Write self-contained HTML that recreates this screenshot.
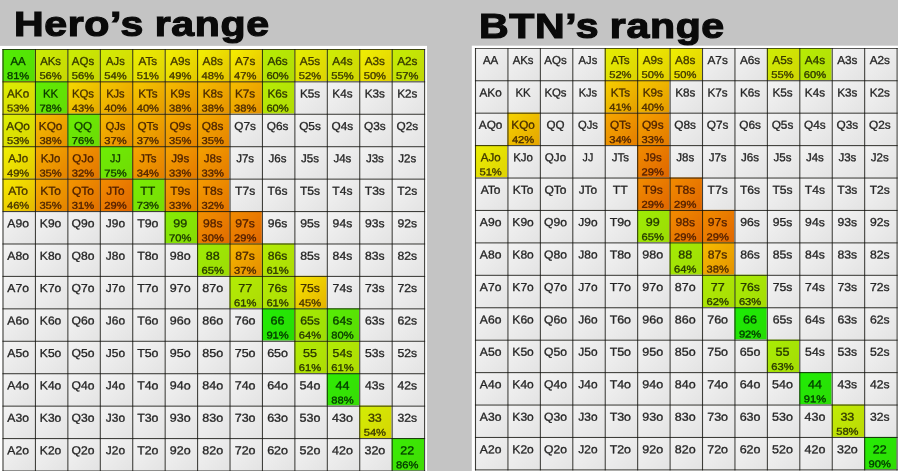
<!DOCTYPE html>
<html><head><meta charset="utf-8"><title>Ranges</title>
<style>
html,body{margin:0;padding:0;}
body{width:898px;height:471px;overflow:hidden;background:#c4c4c4;position:relative;font-family:"Liberation Sans",sans-serif;}
.panel{position:absolute;background:#fff;top:0;left:0;height:430px;}
.title{position:absolute;font-weight:bold;font-size:35.5px;line-height:36px;color:#0a0a0a;white-space:nowrap;transform-origin:0 0;-webkit-text-stroke:1.2px #0a0a0a;letter-spacing:0.55px;word-spacing:-1.2px;will-change:transform;}
.grid{position:absolute;left:0;top:0;width:391px;height:391px;transform-origin:0 0;will-change:transform;}
.c{position:absolute;width:30px;height:30px;background:linear-gradient(135deg,#f2f2f2 10%,#e3e3e3 100%);color:#262626;}
.v,.h{position:absolute;left:0;top:0;background:rgba(18,18,12,.8);}
.v{width:1px;height:391px;}
.h{height:1px;width:391px;}
.c span{position:absolute;left:-5.1px;width:39px;-webkit-text-stroke:0.3px;text-align:center;white-space:nowrap;}
.l{top:5.45px;font-size:10.7px;line-height:13px;}
.p{top:19.45px;transform-origin:50% 77%;font-size:9.2px;line-height:12px;}
</style></head><body>
<div class="panel" style="width:426.6px;transform:translateY(45.9px)"></div>
<div class="panel" style="width:430px;transform:translate(471.8px,45.7px)"></div>
<div class="title" style="left:14.3px;top:6.3px;transform:scaleX(1.156)">Hero’s range</div>
<div class="title" style="left:479.3px;top:8.2px;transform:scaleX(1.156)">BTN’s range</div>
<div class="grid" style="transform:translate(2.46px,48.86px) scale(1.08100,1.08100)">
<div class="c" style="left:0px;top:0px;background:linear-gradient(135deg,#52eb05 12%,#56db05 100%);color:#043800;"><span class="l" style="transform:scaleX(0.992) rotate(.05deg)">AA</span><span class="p" style="transform:scaleX(1.124) rotate(.05deg)">81%</span></div>
<div class="c" style="left:30px;top:0px;background:linear-gradient(135deg,#caeb05 12%,#c8d703 100%);color:#363800;"><span class="l" style="transform:scaleX(0.983) rotate(.05deg)">AKs</span><span class="p" style="transform:scaleX(1.124) rotate(.05deg)">56%</span></div>
<div class="c" style="left:60px;top:0px;background:linear-gradient(135deg,#caeb05 12%,#c8d703 100%);color:#363800;"><span class="l" style="transform:scaleX(0.995) rotate(.05deg)">AQs</span><span class="p" style="transform:scaleX(1.124) rotate(.05deg)">56%</span></div>
<div class="c" style="left:90px;top:0px;background:linear-gradient(135deg,#d3eb05 12%,#d6d503 100%);color:#3c3900;"><span class="l" style="transform:scaleX(0.968) rotate(.05deg)">AJs</span><span class="p" style="transform:scaleX(1.124) rotate(.05deg)">54%</span></div>
<div class="c" style="left:120px;top:0px;background:linear-gradient(135deg,#eaec03 12%,#dfd203 100%);color:#413900;"><span class="l" style="transform:scaleX(1.013) rotate(.05deg)">ATs</span><span class="p" style="transform:scaleX(1.124) rotate(.05deg)">51%</span></div>
<div class="c" style="left:150px;top:0px;background:linear-gradient(135deg,#f0ec03 12%,#e3c900 100%);color:#433800;"><span class="l" style="transform:scaleX(1.019) rotate(.05deg)">A9s</span><span class="p" style="transform:scaleX(1.124) rotate(.05deg)">49%</span></div>
<div class="c" style="left:180px;top:0px;background:linear-gradient(135deg,#f1ec03 12%,#e3c300 100%);color:#443700;"><span class="l" style="transform:scaleX(1.019) rotate(.05deg)">A8s</span><span class="p" style="transform:scaleX(1.124) rotate(.05deg)">48%</span></div>
<div class="c" style="left:210px;top:0px;background:linear-gradient(135deg,#f4ea00 12%,#e4be00 100%);color:#453600;"><span class="l" style="transform:scaleX(1.019) rotate(.05deg)">A7s</span><span class="p" style="transform:scaleX(1.124) rotate(.05deg)">47%</span></div>
<div class="c" style="left:240px;top:0px;background:linear-gradient(135deg,#b6eb05 12%,#b1db05 100%);color:#2e3800;"><span class="l" style="transform:scaleX(1.019) rotate(.05deg)">A6s</span><span class="p" style="transform:scaleX(1.124) rotate(.05deg)">60%</span></div>
<div class="c" style="left:270px;top:0px;background:linear-gradient(135deg,#e4ec03 12%,#ddd303 100%);color:#403900;"><span class="l" style="transform:scaleX(1.019) rotate(.05deg)">A5s</span><span class="p" style="transform:scaleX(1.124) rotate(.05deg)">52%</span></div>
<div class="c" style="left:300px;top:0px;background:linear-gradient(135deg,#ceeb05 12%,#d0d603 100%);color:#393900;"><span class="l" style="transform:scaleX(1.019) rotate(.05deg)">A4s</span><span class="p" style="transform:scaleX(1.124) rotate(.05deg)">55%</span></div>
<div class="c" style="left:330px;top:0px;background:linear-gradient(135deg,#eeec03 12%,#e2cf00 100%);color:#423900;"><span class="l" style="transform:scaleX(1.019) rotate(.05deg)">A3s</span><span class="p" style="transform:scaleX(1.124) rotate(.05deg)">50%</span></div>
<div class="c" style="left:360px;top:0px;background:linear-gradient(135deg,#c5eb05 12%,#c0d705 100%);color:#343800;"><span class="l" style="transform:scaleX(1.019) rotate(.05deg)">A2s</span><span class="p" style="transform:scaleX(1.124) rotate(.05deg)">57%</span></div>
<div class="c" style="left:0px;top:30px;background:linear-gradient(135deg,#dcec03 12%,#dad403 100%);color:#3f3900;"><span class="l" style="transform:scaleX(1.011) rotate(.05deg)">AKo</span><span class="p" style="transform:scaleX(1.124) rotate(.05deg)">53%</span></div>
<div class="c" style="left:30px;top:30px;background:linear-gradient(135deg,#60eb05 12%,#63db05 100%);color:#0a3800;"><span class="l" style="transform:scaleX(0.974) rotate(.05deg)">KK</span><span class="p" style="transform:scaleX(1.124) rotate(.05deg)">78%</span></div>
<div class="c" style="left:60px;top:30px;background:linear-gradient(135deg,#f4d400 12%,#e5a900 100%);color:#483000;"><span class="l" style="transform:scaleX(0.988) rotate(.05deg)">KQs</span><span class="p" style="transform:scaleX(1.124) rotate(.05deg)">43%</span></div>
<div class="c" style="left:90px;top:30px;background:linear-gradient(135deg,#f4c400 12%,#e59a00 100%);color:#4a2c00;"><span class="l" style="transform:scaleX(0.960) rotate(.05deg)">KJs</span><span class="p" style="transform:scaleX(1.124) rotate(.05deg)">40%</span></div>
<div class="c" style="left:120px;top:30px;background:linear-gradient(135deg,#f4c400 12%,#e59a00 100%);color:#4a2c00;"><span class="l" style="transform:scaleX(1.007) rotate(.05deg)">KTs</span><span class="p" style="transform:scaleX(1.124) rotate(.05deg)">40%</span></div>
<div class="c" style="left:150px;top:30px;background:linear-gradient(135deg,#f4b900 12%,#e59100 100%);color:#4c2a00;"><span class="l" style="transform:scaleX(1.012) rotate(.05deg)">K9s</span><span class="p" style="transform:scaleX(1.124) rotate(.05deg)">38%</span></div>
<div class="c" style="left:180px;top:30px;background:linear-gradient(135deg,#f4b900 12%,#e59100 100%);color:#4c2a00;"><span class="l" style="transform:scaleX(1.012) rotate(.05deg)">K8s</span><span class="p" style="transform:scaleX(1.124) rotate(.05deg)">38%</span></div>
<div class="c" style="left:210px;top:30px;background:linear-gradient(135deg,#f4b900 12%,#e59100 100%);color:#4c2a00;"><span class="l" style="transform:scaleX(1.012) rotate(.05deg)">K7s</span><span class="p" style="transform:scaleX(1.124) rotate(.05deg)">38%</span></div>
<div class="c" style="left:240px;top:30px;background:linear-gradient(135deg,#b6eb05 12%,#b1db05 100%);color:#2e3800;"><span class="l" style="transform:scaleX(1.012) rotate(.05deg)">K6s</span><span class="p" style="transform:scaleX(1.124) rotate(.05deg)">60%</span></div>
<div class="c" style="left:270px;top:30px;"><span class="l" style="transform:scaleX(1.012) rotate(.05deg)">K5s</span></div>
<div class="c" style="left:300px;top:30px;"><span class="l" style="transform:scaleX(1.012) rotate(.05deg)">K4s</span></div>
<div class="c" style="left:330px;top:30px;"><span class="l" style="transform:scaleX(1.012) rotate(.05deg)">K3s</span></div>
<div class="c" style="left:360px;top:30px;"><span class="l" style="transform:scaleX(1.012) rotate(.05deg)">K2s</span></div>
<div class="c" style="left:0px;top:60px;background:linear-gradient(135deg,#dcec03 12%,#dad403 100%);color:#3f3900;"><span class="l" style="transform:scaleX(1.020) rotate(.05deg)">AQo</span><span class="p" style="transform:scaleX(1.124) rotate(.05deg)">53%</span></div>
<div class="c" style="left:30px;top:60px;background:linear-gradient(135deg,#f4b900 12%,#e59100 100%);color:#4c2a00;"><span class="l" style="transform:scaleX(1.014) rotate(.05deg)">KQo</span><span class="p" style="transform:scaleX(1.124) rotate(.05deg)">38%</span></div>
<div class="c" style="left:60px;top:60px;background:linear-gradient(135deg,#6aeb05 12%,#6cdb05 100%);color:#0e3800;"><span class="l" style="transform:scaleX(1.004) rotate(.05deg)">QQ</span><span class="p" style="transform:scaleX(1.124) rotate(.05deg)">76%</span></div>
<div class="c" style="left:90px;top:60px;background:linear-gradient(135deg,#f4b400 12%,#e58c00 100%);color:#4c2800;"><span class="l" style="transform:scaleX(0.974) rotate(.05deg)">QJs</span><span class="p" style="transform:scaleX(1.124) rotate(.05deg)">37%</span></div>
<div class="c" style="left:120px;top:60px;background:linear-gradient(135deg,#f4b400 12%,#e58c00 100%);color:#4c2800;"><span class="l" style="transform:scaleX(1.017) rotate(.05deg)">QTs</span><span class="p" style="transform:scaleX(1.124) rotate(.05deg)">37%</span></div>
<div class="c" style="left:150px;top:60px;background:linear-gradient(135deg,#f4a800 12%,#e48300 100%);color:#4e2600;"><span class="l" style="transform:scaleX(1.022) rotate(.05deg)">Q9s</span><span class="p" style="transform:scaleX(1.124) rotate(.05deg)">35%</span></div>
<div class="c" style="left:180px;top:60px;background:linear-gradient(135deg,#f4a800 12%,#e48300 100%);color:#4e2600;"><span class="l" style="transform:scaleX(1.022) rotate(.05deg)">Q8s</span><span class="p" style="transform:scaleX(1.124) rotate(.05deg)">35%</span></div>
<div class="c" style="left:210px;top:60px;"><span class="l" style="transform:scaleX(1.022) rotate(.05deg)">Q7s</span></div>
<div class="c" style="left:240px;top:60px;"><span class="l" style="transform:scaleX(1.022) rotate(.05deg)">Q6s</span></div>
<div class="c" style="left:270px;top:60px;"><span class="l" style="transform:scaleX(1.022) rotate(.05deg)">Q5s</span></div>
<div class="c" style="left:300px;top:60px;"><span class="l" style="transform:scaleX(1.022) rotate(.05deg)">Q4s</span></div>
<div class="c" style="left:330px;top:60px;"><span class="l" style="transform:scaleX(1.022) rotate(.05deg)">Q3s</span></div>
<div class="c" style="left:360px;top:60px;"><span class="l" style="transform:scaleX(1.022) rotate(.05deg)">Q2s</span></div>
<div class="c" style="left:0px;top:90px;background:linear-gradient(135deg,#f0ec03 12%,#e3c900 100%);color:#433800;"><span class="l" style="transform:scaleX(0.998) rotate(.05deg)">AJo</span><span class="p" style="transform:scaleX(1.124) rotate(.05deg)">49%</span></div>
<div class="c" style="left:30px;top:90px;background:linear-gradient(135deg,#f4a800 12%,#e48300 100%);color:#4e2600;"><span class="l" style="transform:scaleX(0.991) rotate(.05deg)">KJo</span><span class="p" style="transform:scaleX(1.124) rotate(.05deg)">35%</span></div>
<div class="c" style="left:60px;top:90px;background:linear-gradient(135deg,#f39800 12%,#e27500 100%);color:#4f2200;"><span class="l" style="transform:scaleX(1.003) rotate(.05deg)">QJo</span><span class="p" style="transform:scaleX(1.124) rotate(.05deg)">32%</span></div>
<div class="c" style="left:90px;top:90px;background:linear-gradient(135deg,#6eeb05 12%,#70db05 100%);color:#103800;"><span class="l" style="transform:scaleX(0.919) rotate(.05deg)">JJ</span><span class="p" style="transform:scaleX(1.124) rotate(.05deg)">75%</span></div>
<div class="c" style="left:120px;top:90px;background:linear-gradient(135deg,#f4a300 12%,#e37e00 100%);color:#4e2400;"><span class="l" style="transform:scaleX(0.993) rotate(.05deg)">JTs</span><span class="p" style="transform:scaleX(1.124) rotate(.05deg)">34%</span></div>
<div class="c" style="left:150px;top:90px;background:linear-gradient(135deg,#f49e00 12%,#e37900 100%);color:#4f2300;"><span class="l" style="transform:scaleX(0.998) rotate(.05deg)">J9s</span><span class="p" style="transform:scaleX(1.124) rotate(.05deg)">33%</span></div>
<div class="c" style="left:180px;top:90px;background:linear-gradient(135deg,#f49e00 12%,#e37900 100%);color:#4f2300;"><span class="l" style="transform:scaleX(0.998) rotate(.05deg)">J8s</span><span class="p" style="transform:scaleX(1.124) rotate(.05deg)">33%</span></div>
<div class="c" style="left:210px;top:90px;"><span class="l" style="transform:scaleX(0.998) rotate(.05deg)">J7s</span></div>
<div class="c" style="left:240px;top:90px;"><span class="l" style="transform:scaleX(0.998) rotate(.05deg)">J6s</span></div>
<div class="c" style="left:270px;top:90px;"><span class="l" style="transform:scaleX(0.998) rotate(.05deg)">J5s</span></div>
<div class="c" style="left:300px;top:90px;"><span class="l" style="transform:scaleX(0.998) rotate(.05deg)">J4s</span></div>
<div class="c" style="left:330px;top:90px;"><span class="l" style="transform:scaleX(0.998) rotate(.05deg)">J3s</span></div>
<div class="c" style="left:360px;top:90px;"><span class="l" style="transform:scaleX(0.998) rotate(.05deg)">J2s</span></div>
<div class="c" style="left:0px;top:120px;background:linear-gradient(135deg,#f4e500 12%,#e5b800 100%);color:#463400;"><span class="l" style="transform:scaleX(1.041) rotate(.05deg)">ATo</span><span class="p" style="transform:scaleX(1.124) rotate(.05deg)">46%</span></div>
<div class="c" style="left:30px;top:120px;background:linear-gradient(135deg,#f4a800 12%,#e48300 100%);color:#4e2600;"><span class="l" style="transform:scaleX(1.034) rotate(.05deg)">KTo</span><span class="p" style="transform:scaleX(1.124) rotate(.05deg)">35%</span></div>
<div class="c" style="left:60px;top:120px;background:linear-gradient(135deg,#f29200 12%,#e17000 100%);color:#4f2100;"><span class="l" style="transform:scaleX(1.043) rotate(.05deg)">QTo</span><span class="p" style="transform:scaleX(1.124) rotate(.05deg)">31%</span></div>
<div class="c" style="left:90px;top:120px;background:linear-gradient(135deg,#f08800 12%,#df6600 100%);color:#501e00;"><span class="l" style="transform:scaleX(1.024) rotate(.05deg)">JTo</span><span class="p" style="transform:scaleX(1.124) rotate(.05deg)">29%</span></div>
<div class="c" style="left:120px;top:120px;background:linear-gradient(135deg,#78eb05 12%,#79db05 100%);color:#143800;"><span class="l" style="transform:scaleX(1.061) rotate(.05deg)">TT</span><span class="p" style="transform:scaleX(1.124) rotate(.05deg)">73%</span></div>
<div class="c" style="left:150px;top:120px;background:linear-gradient(135deg,#f49e00 12%,#e37900 100%);color:#4f2300;"><span class="l" style="transform:scaleX(1.045) rotate(.05deg)">T9s</span><span class="p" style="transform:scaleX(1.124) rotate(.05deg)">33%</span></div>
<div class="c" style="left:180px;top:120px;background:linear-gradient(135deg,#f39800 12%,#e27500 100%);color:#4f2200;"><span class="l" style="transform:scaleX(1.045) rotate(.05deg)">T8s</span><span class="p" style="transform:scaleX(1.124) rotate(.05deg)">32%</span></div>
<div class="c" style="left:210px;top:120px;"><span class="l" style="transform:scaleX(1.045) rotate(.05deg)">T7s</span></div>
<div class="c" style="left:240px;top:120px;"><span class="l" style="transform:scaleX(1.045) rotate(.05deg)">T6s</span></div>
<div class="c" style="left:270px;top:120px;"><span class="l" style="transform:scaleX(1.045) rotate(.05deg)">T5s</span></div>
<div class="c" style="left:300px;top:120px;"><span class="l" style="transform:scaleX(1.045) rotate(.05deg)">T4s</span></div>
<div class="c" style="left:330px;top:120px;"><span class="l" style="transform:scaleX(1.045) rotate(.05deg)">T3s</span></div>
<div class="c" style="left:360px;top:120px;"><span class="l" style="transform:scaleX(1.045) rotate(.05deg)">T2s</span></div>
<div class="c" style="left:0px;top:150px;"><span class="l" style="transform:scaleX(1.047) rotate(.05deg)">A9o</span></div>
<div class="c" style="left:30px;top:150px;"><span class="l" style="transform:scaleX(1.040) rotate(.05deg)">K9o</span></div>
<div class="c" style="left:60px;top:150px;"><span class="l" style="transform:scaleX(1.049) rotate(.05deg)">Q9o</span></div>
<div class="c" style="left:90px;top:150px;"><span class="l" style="transform:scaleX(1.030) rotate(.05deg)">J9o</span></div>
<div class="c" style="left:120px;top:150px;"><span class="l" style="transform:scaleX(1.073) rotate(.05deg)">T9o</span></div>
<div class="c" style="left:150px;top:150px;background:linear-gradient(135deg,#86eb05 12%,#86db05 100%);color:#1a3800;"><span class="l" style="transform:scaleX(1.083) rotate(.05deg)">99</span><span class="p" style="transform:scaleX(1.124) rotate(.05deg)">70%</span></div>
<div class="c" style="left:180px;top:150px;background:linear-gradient(135deg,#f18d00 12%,#e06b00 100%);color:#501f00;"><span class="l" style="transform:scaleX(1.052) rotate(.05deg)">98s</span><span class="p" style="transform:scaleX(1.124) rotate(.05deg)">30%</span></div>
<div class="c" style="left:210px;top:150px;background:linear-gradient(135deg,#f08800 12%,#df6600 100%);color:#501e00;"><span class="l" style="transform:scaleX(1.052) rotate(.05deg)">97s</span><span class="p" style="transform:scaleX(1.124) rotate(.05deg)">29%</span></div>
<div class="c" style="left:240px;top:150px;"><span class="l" style="transform:scaleX(1.052) rotate(.05deg)">96s</span></div>
<div class="c" style="left:270px;top:150px;"><span class="l" style="transform:scaleX(1.052) rotate(.05deg)">95s</span></div>
<div class="c" style="left:300px;top:150px;"><span class="l" style="transform:scaleX(1.052) rotate(.05deg)">94s</span></div>
<div class="c" style="left:330px;top:150px;"><span class="l" style="transform:scaleX(1.052) rotate(.05deg)">93s</span></div>
<div class="c" style="left:360px;top:150px;"><span class="l" style="transform:scaleX(1.052) rotate(.05deg)">92s</span></div>
<div class="c" style="left:0px;top:180px;"><span class="l" style="transform:scaleX(1.047) rotate(.05deg)">A8o</span></div>
<div class="c" style="left:30px;top:180px;"><span class="l" style="transform:scaleX(1.040) rotate(.05deg)">K8o</span></div>
<div class="c" style="left:60px;top:180px;"><span class="l" style="transform:scaleX(1.049) rotate(.05deg)">Q8o</span></div>
<div class="c" style="left:90px;top:180px;"><span class="l" style="transform:scaleX(1.030) rotate(.05deg)">J8o</span></div>
<div class="c" style="left:120px;top:180px;"><span class="l" style="transform:scaleX(1.073) rotate(.05deg)">T8o</span></div>
<div class="c" style="left:150px;top:180px;"><span class="l" style="transform:scaleX(1.081) rotate(.05deg)">98o</span></div>
<div class="c" style="left:180px;top:180px;background:linear-gradient(135deg,#9eeb05 12%,#9cdb05 100%);color:#243800;"><span class="l" style="transform:scaleX(1.083) rotate(.05deg)">88</span><span class="p" style="transform:scaleX(1.124) rotate(.05deg)">65%</span></div>
<div class="c" style="left:210px;top:180px;background:linear-gradient(135deg,#f4b400 12%,#e58c00 100%);color:#4c2800;"><span class="l" style="transform:scaleX(1.052) rotate(.05deg)">87s</span><span class="p" style="transform:scaleX(1.124) rotate(.05deg)">37%</span></div>
<div class="c" style="left:240px;top:180px;background:linear-gradient(135deg,#b2eb05 12%,#addb05 100%);color:#2c3800;"><span class="l" style="transform:scaleX(1.052) rotate(.05deg)">86s</span><span class="p" style="transform:scaleX(1.124) rotate(.05deg)">61%</span></div>
<div class="c" style="left:270px;top:180px;"><span class="l" style="transform:scaleX(1.052) rotate(.05deg)">85s</span></div>
<div class="c" style="left:300px;top:180px;"><span class="l" style="transform:scaleX(1.052) rotate(.05deg)">84s</span></div>
<div class="c" style="left:330px;top:180px;"><span class="l" style="transform:scaleX(1.052) rotate(.05deg)">83s</span></div>
<div class="c" style="left:360px;top:180px;"><span class="l" style="transform:scaleX(1.052) rotate(.05deg)">82s</span></div>
<div class="c" style="left:0px;top:210px;"><span class="l" style="transform:scaleX(1.047) rotate(.05deg)">A7o</span></div>
<div class="c" style="left:30px;top:210px;"><span class="l" style="transform:scaleX(1.040) rotate(.05deg)">K7o</span></div>
<div class="c" style="left:60px;top:210px;"><span class="l" style="transform:scaleX(1.049) rotate(.05deg)">Q7o</span></div>
<div class="c" style="left:90px;top:210px;"><span class="l" style="transform:scaleX(1.030) rotate(.05deg)">J7o</span></div>
<div class="c" style="left:120px;top:210px;"><span class="l" style="transform:scaleX(1.073) rotate(.05deg)">T7o</span></div>
<div class="c" style="left:150px;top:210px;"><span class="l" style="transform:scaleX(1.081) rotate(.05deg)">97o</span></div>
<div class="c" style="left:180px;top:210px;"><span class="l" style="transform:scaleX(1.081) rotate(.05deg)">87o</span></div>
<div class="c" style="left:210px;top:210px;background:linear-gradient(135deg,#b2eb05 12%,#addb05 100%);color:#2c3800;"><span class="l" style="transform:scaleX(1.083) rotate(.05deg)">77</span><span class="p" style="transform:scaleX(1.124) rotate(.05deg)">61%</span></div>
<div class="c" style="left:240px;top:210px;background:linear-gradient(135deg,#b2eb05 12%,#addb05 100%);color:#2c3800;"><span class="l" style="transform:scaleX(1.052) rotate(.05deg)">76s</span><span class="p" style="transform:scaleX(1.124) rotate(.05deg)">61%</span></div>
<div class="c" style="left:270px;top:210px;background:linear-gradient(135deg,#f4e000 12%,#e5b200 100%);color:#463300;"><span class="l" style="transform:scaleX(1.052) rotate(.05deg)">75s</span><span class="p" style="transform:scaleX(1.124) rotate(.05deg)">45%</span></div>
<div class="c" style="left:300px;top:210px;"><span class="l" style="transform:scaleX(1.052) rotate(.05deg)">74s</span></div>
<div class="c" style="left:330px;top:210px;"><span class="l" style="transform:scaleX(1.052) rotate(.05deg)">73s</span></div>
<div class="c" style="left:360px;top:210px;"><span class="l" style="transform:scaleX(1.052) rotate(.05deg)">72s</span></div>
<div class="c" style="left:0px;top:240px;"><span class="l" style="transform:scaleX(1.047) rotate(.05deg)">A6o</span></div>
<div class="c" style="left:30px;top:240px;"><span class="l" style="transform:scaleX(1.040) rotate(.05deg)">K6o</span></div>
<div class="c" style="left:60px;top:240px;"><span class="l" style="transform:scaleX(1.049) rotate(.05deg)">Q6o</span></div>
<div class="c" style="left:90px;top:240px;"><span class="l" style="transform:scaleX(1.030) rotate(.05deg)">J6o</span></div>
<div class="c" style="left:120px;top:240px;"><span class="l" style="transform:scaleX(1.073) rotate(.05deg)">T6o</span></div>
<div class="c" style="left:150px;top:240px;"><span class="l" style="transform:scaleX(1.081) rotate(.05deg)">96o</span></div>
<div class="c" style="left:180px;top:240px;"><span class="l" style="transform:scaleX(1.081) rotate(.05deg)">86o</span></div>
<div class="c" style="left:210px;top:240px;"><span class="l" style="transform:scaleX(1.081) rotate(.05deg)">76o</span></div>
<div class="c" style="left:240px;top:240px;background:linear-gradient(135deg,#22eb05 12%,#2bdb05 100%);color:#003800;"><span class="l" style="transform:scaleX(1.083) rotate(.05deg)">66</span><span class="p" style="transform:scaleX(1.124) rotate(.05deg)">91%</span></div>
<div class="c" style="left:270px;top:240px;background:linear-gradient(135deg,#a3eb05 12%,#a0db05 100%);color:#263800;"><span class="l" style="transform:scaleX(1.052) rotate(.05deg)">65s</span><span class="p" style="transform:scaleX(1.124) rotate(.05deg)">64%</span></div>
<div class="c" style="left:300px;top:240px;background:linear-gradient(135deg,#56eb05 12%,#5bdb05 100%);color:#063800;"><span class="l" style="transform:scaleX(1.052) rotate(.05deg)">64s</span><span class="p" style="transform:scaleX(1.124) rotate(.05deg)">80%</span></div>
<div class="c" style="left:330px;top:240px;"><span class="l" style="transform:scaleX(1.052) rotate(.05deg)">63s</span></div>
<div class="c" style="left:360px;top:240px;"><span class="l" style="transform:scaleX(1.052) rotate(.05deg)">62s</span></div>
<div class="c" style="left:0px;top:270px;"><span class="l" style="transform:scaleX(1.047) rotate(.05deg)">A5o</span></div>
<div class="c" style="left:30px;top:270px;"><span class="l" style="transform:scaleX(1.040) rotate(.05deg)">K5o</span></div>
<div class="c" style="left:60px;top:270px;"><span class="l" style="transform:scaleX(1.049) rotate(.05deg)">Q5o</span></div>
<div class="c" style="left:90px;top:270px;"><span class="l" style="transform:scaleX(1.030) rotate(.05deg)">J5o</span></div>
<div class="c" style="left:120px;top:270px;"><span class="l" style="transform:scaleX(1.073) rotate(.05deg)">T5o</span></div>
<div class="c" style="left:150px;top:270px;"><span class="l" style="transform:scaleX(1.081) rotate(.05deg)">95o</span></div>
<div class="c" style="left:180px;top:270px;"><span class="l" style="transform:scaleX(1.081) rotate(.05deg)">85o</span></div>
<div class="c" style="left:210px;top:270px;"><span class="l" style="transform:scaleX(1.081) rotate(.05deg)">75o</span></div>
<div class="c" style="left:240px;top:270px;"><span class="l" style="transform:scaleX(1.081) rotate(.05deg)">65o</span></div>
<div class="c" style="left:270px;top:270px;background:linear-gradient(135deg,#b2eb05 12%,#addb05 100%);color:#2c3800;"><span class="l" style="transform:scaleX(1.083) rotate(.05deg)">55</span><span class="p" style="transform:scaleX(1.124) rotate(.05deg)">61%</span></div>
<div class="c" style="left:300px;top:270px;background:linear-gradient(135deg,#b2eb05 12%,#addb05 100%);color:#2c3800;"><span class="l" style="transform:scaleX(1.052) rotate(.05deg)">54s</span><span class="p" style="transform:scaleX(1.124) rotate(.05deg)">61%</span></div>
<div class="c" style="left:330px;top:270px;"><span class="l" style="transform:scaleX(1.052) rotate(.05deg)">53s</span></div>
<div class="c" style="left:360px;top:270px;"><span class="l" style="transform:scaleX(1.052) rotate(.05deg)">52s</span></div>
<div class="c" style="left:0px;top:300px;"><span class="l" style="transform:scaleX(1.047) rotate(.05deg)">A4o</span></div>
<div class="c" style="left:30px;top:300px;"><span class="l" style="transform:scaleX(1.040) rotate(.05deg)">K4o</span></div>
<div class="c" style="left:60px;top:300px;"><span class="l" style="transform:scaleX(1.049) rotate(.05deg)">Q4o</span></div>
<div class="c" style="left:90px;top:300px;"><span class="l" style="transform:scaleX(1.030) rotate(.05deg)">J4o</span></div>
<div class="c" style="left:120px;top:300px;"><span class="l" style="transform:scaleX(1.073) rotate(.05deg)">T4o</span></div>
<div class="c" style="left:150px;top:300px;"><span class="l" style="transform:scaleX(1.081) rotate(.05deg)">94o</span></div>
<div class="c" style="left:180px;top:300px;"><span class="l" style="transform:scaleX(1.081) rotate(.05deg)">84o</span></div>
<div class="c" style="left:210px;top:300px;"><span class="l" style="transform:scaleX(1.081) rotate(.05deg)">74o</span></div>
<div class="c" style="left:240px;top:300px;"><span class="l" style="transform:scaleX(1.081) rotate(.05deg)">64o</span></div>
<div class="c" style="left:270px;top:300px;"><span class="l" style="transform:scaleX(1.081) rotate(.05deg)">54o</span></div>
<div class="c" style="left:300px;top:300px;background:linear-gradient(135deg,#30eb05 12%,#38db05 100%);color:#003800;"><span class="l" style="transform:scaleX(1.083) rotate(.05deg)">44</span><span class="p" style="transform:scaleX(1.124) rotate(.05deg)">88%</span></div>
<div class="c" style="left:330px;top:300px;"><span class="l" style="transform:scaleX(1.052) rotate(.05deg)">43s</span></div>
<div class="c" style="left:360px;top:300px;"><span class="l" style="transform:scaleX(1.052) rotate(.05deg)">42s</span></div>
<div class="c" style="left:0px;top:330px;"><span class="l" style="transform:scaleX(1.047) rotate(.05deg)">A3o</span></div>
<div class="c" style="left:30px;top:330px;"><span class="l" style="transform:scaleX(1.040) rotate(.05deg)">K3o</span></div>
<div class="c" style="left:60px;top:330px;"><span class="l" style="transform:scaleX(1.049) rotate(.05deg)">Q3o</span></div>
<div class="c" style="left:90px;top:330px;"><span class="l" style="transform:scaleX(1.030) rotate(.05deg)">J3o</span></div>
<div class="c" style="left:120px;top:330px;"><span class="l" style="transform:scaleX(1.073) rotate(.05deg)">T3o</span></div>
<div class="c" style="left:150px;top:330px;"><span class="l" style="transform:scaleX(1.081) rotate(.05deg)">93o</span></div>
<div class="c" style="left:180px;top:330px;"><span class="l" style="transform:scaleX(1.081) rotate(.05deg)">83o</span></div>
<div class="c" style="left:210px;top:330px;"><span class="l" style="transform:scaleX(1.081) rotate(.05deg)">73o</span></div>
<div class="c" style="left:240px;top:330px;"><span class="l" style="transform:scaleX(1.081) rotate(.05deg)">63o</span></div>
<div class="c" style="left:270px;top:330px;"><span class="l" style="transform:scaleX(1.081) rotate(.05deg)">53o</span></div>
<div class="c" style="left:300px;top:330px;"><span class="l" style="transform:scaleX(1.081) rotate(.05deg)">43o</span></div>
<div class="c" style="left:330px;top:330px;background:linear-gradient(135deg,#d3eb05 12%,#d6d503 100%);color:#3c3900;"><span class="l" style="transform:scaleX(1.083) rotate(.05deg)">33</span><span class="p" style="transform:scaleX(1.124) rotate(.05deg)">54%</span></div>
<div class="c" style="left:360px;top:330px;"><span class="l" style="transform:scaleX(1.052) rotate(.05deg)">32s</span></div>
<div class="c" style="left:0px;top:360px;"><span class="l" style="transform:scaleX(1.047) rotate(.05deg)">A2o</span></div>
<div class="c" style="left:30px;top:360px;"><span class="l" style="transform:scaleX(1.040) rotate(.05deg)">K2o</span></div>
<div class="c" style="left:60px;top:360px;"><span class="l" style="transform:scaleX(1.049) rotate(.05deg)">Q2o</span></div>
<div class="c" style="left:90px;top:360px;"><span class="l" style="transform:scaleX(1.030) rotate(.05deg)">J2o</span></div>
<div class="c" style="left:120px;top:360px;"><span class="l" style="transform:scaleX(1.073) rotate(.05deg)">T2o</span></div>
<div class="c" style="left:150px;top:360px;"><span class="l" style="transform:scaleX(1.081) rotate(.05deg)">92o</span></div>
<div class="c" style="left:180px;top:360px;"><span class="l" style="transform:scaleX(1.081) rotate(.05deg)">82o</span></div>
<div class="c" style="left:210px;top:360px;"><span class="l" style="transform:scaleX(1.081) rotate(.05deg)">72o</span></div>
<div class="c" style="left:240px;top:360px;"><span class="l" style="transform:scaleX(1.081) rotate(.05deg)">62o</span></div>
<div class="c" style="left:270px;top:360px;"><span class="l" style="transform:scaleX(1.081) rotate(.05deg)">52o</span></div>
<div class="c" style="left:300px;top:360px;"><span class="l" style="transform:scaleX(1.081) rotate(.05deg)">42o</span></div>
<div class="c" style="left:330px;top:360px;"><span class="l" style="transform:scaleX(1.081) rotate(.05deg)">32o</span></div>
<div class="c" style="left:360px;top:360px;background:linear-gradient(135deg,#3aeb05 12%,#41db05 100%);color:#003800;"><span class="l" style="transform:scaleX(1.083) rotate(.05deg)">22</span><span class="p" style="transform:scaleX(1.124) rotate(.05deg)">86%</span></div>
<div class="v" style="left:0px"></div><div class="h" style="top:0px"></div>
<div class="v" style="left:30px"></div><div class="h" style="top:30px"></div>
<div class="v" style="left:60px"></div><div class="h" style="top:60px"></div>
<div class="v" style="left:90px"></div><div class="h" style="top:90px"></div>
<div class="v" style="left:120px"></div><div class="h" style="top:120px"></div>
<div class="v" style="left:150px"></div><div class="h" style="top:150px"></div>
<div class="v" style="left:180px"></div><div class="h" style="top:180px"></div>
<div class="v" style="left:210px"></div><div class="h" style="top:210px"></div>
<div class="v" style="left:240px"></div><div class="h" style="top:240px"></div>
<div class="v" style="left:270px"></div><div class="h" style="top:270px"></div>
<div class="v" style="left:300px"></div><div class="h" style="top:300px"></div>
<div class="v" style="left:330px"></div><div class="h" style="top:330px"></div>
<div class="v" style="left:360px"></div><div class="h" style="top:360px"></div>
<div class="v" style="left:390px"></div><div class="h" style="top:390px"></div>
</div>
<div class="grid" style="transform:translate(474.96px,47.76px) scale(1.08100,1.08100)">
<div class="c" style="left:0px;top:0px;"><span class="l" style="transform:scaleX(0.992) rotate(.05deg)">AA</span></div>
<div class="c" style="left:30px;top:0px;"><span class="l" style="transform:scaleX(0.983) rotate(.05deg)">AKs</span></div>
<div class="c" style="left:60px;top:0px;"><span class="l" style="transform:scaleX(0.995) rotate(.05deg)">AQs</span></div>
<div class="c" style="left:90px;top:0px;"><span class="l" style="transform:scaleX(0.968) rotate(.05deg)">AJs</span></div>
<div class="c" style="left:120px;top:0px;background:linear-gradient(135deg,#e4ec03 12%,#ddd303 100%);color:#403900;"><span class="l" style="transform:scaleX(1.013) rotate(.05deg)">ATs</span><span class="p" style="transform:scaleX(1.124) rotate(.05deg)">52%</span></div>
<div class="c" style="left:150px;top:0px;background:linear-gradient(135deg,#eeec03 12%,#e2cf00 100%);color:#423900;"><span class="l" style="transform:scaleX(1.019) rotate(.05deg)">A9s</span><span class="p" style="transform:scaleX(1.124) rotate(.05deg)">50%</span></div>
<div class="c" style="left:180px;top:0px;background:linear-gradient(135deg,#eeec03 12%,#e2cf00 100%);color:#423900;"><span class="l" style="transform:scaleX(1.019) rotate(.05deg)">A8s</span><span class="p" style="transform:scaleX(1.124) rotate(.05deg)">50%</span></div>
<div class="c" style="left:210px;top:0px;"><span class="l" style="transform:scaleX(1.019) rotate(.05deg)">A7s</span></div>
<div class="c" style="left:240px;top:0px;"><span class="l" style="transform:scaleX(1.019) rotate(.05deg)">A6s</span></div>
<div class="c" style="left:270px;top:0px;background:linear-gradient(135deg,#ceeb05 12%,#d0d603 100%);color:#393900;"><span class="l" style="transform:scaleX(1.019) rotate(.05deg)">A5s</span><span class="p" style="transform:scaleX(1.124) rotate(.05deg)">55%</span></div>
<div class="c" style="left:300px;top:0px;background:linear-gradient(135deg,#b6eb05 12%,#b1db05 100%);color:#2e3800;"><span class="l" style="transform:scaleX(1.019) rotate(.05deg)">A4s</span><span class="p" style="transform:scaleX(1.124) rotate(.05deg)">60%</span></div>
<div class="c" style="left:330px;top:0px;"><span class="l" style="transform:scaleX(1.019) rotate(.05deg)">A3s</span></div>
<div class="c" style="left:360px;top:0px;"><span class="l" style="transform:scaleX(1.019) rotate(.05deg)">A2s</span></div>
<div class="c" style="left:0px;top:30px;"><span class="l" style="transform:scaleX(1.011) rotate(.05deg)">AKo</span></div>
<div class="c" style="left:30px;top:30px;"><span class="l" style="transform:scaleX(0.974) rotate(.05deg)">KK</span></div>
<div class="c" style="left:60px;top:30px;"><span class="l" style="transform:scaleX(0.988) rotate(.05deg)">KQs</span></div>
<div class="c" style="left:90px;top:30px;"><span class="l" style="transform:scaleX(0.960) rotate(.05deg)">KJs</span></div>
<div class="c" style="left:120px;top:30px;background:linear-gradient(135deg,#f4ca00 12%,#e59f00 100%);color:#492e00;"><span class="l" style="transform:scaleX(1.007) rotate(.05deg)">KTs</span><span class="p" style="transform:scaleX(1.124) rotate(.05deg)">41%</span></div>
<div class="c" style="left:150px;top:30px;background:linear-gradient(135deg,#f4c400 12%,#e59a00 100%);color:#4a2c00;"><span class="l" style="transform:scaleX(1.012) rotate(.05deg)">K9s</span><span class="p" style="transform:scaleX(1.124) rotate(.05deg)">40%</span></div>
<div class="c" style="left:180px;top:30px;"><span class="l" style="transform:scaleX(1.012) rotate(.05deg)">K8s</span></div>
<div class="c" style="left:210px;top:30px;"><span class="l" style="transform:scaleX(1.012) rotate(.05deg)">K7s</span></div>
<div class="c" style="left:240px;top:30px;"><span class="l" style="transform:scaleX(1.012) rotate(.05deg)">K6s</span></div>
<div class="c" style="left:270px;top:30px;"><span class="l" style="transform:scaleX(1.012) rotate(.05deg)">K5s</span></div>
<div class="c" style="left:300px;top:30px;"><span class="l" style="transform:scaleX(1.012) rotate(.05deg)">K4s</span></div>
<div class="c" style="left:330px;top:30px;"><span class="l" style="transform:scaleX(1.012) rotate(.05deg)">K3s</span></div>
<div class="c" style="left:360px;top:30px;"><span class="l" style="transform:scaleX(1.012) rotate(.05deg)">K2s</span></div>
<div class="c" style="left:0px;top:60px;"><span class="l" style="transform:scaleX(1.020) rotate(.05deg)">AQo</span></div>
<div class="c" style="left:30px;top:60px;background:linear-gradient(135deg,#f4cf00 12%,#e5a400 100%);color:#492f00;"><span class="l" style="transform:scaleX(1.014) rotate(.05deg)">KQo</span><span class="p" style="transform:scaleX(1.124) rotate(.05deg)">42%</span></div>
<div class="c" style="left:60px;top:60px;"><span class="l" style="transform:scaleX(1.004) rotate(.05deg)">QQ</span></div>
<div class="c" style="left:90px;top:60px;"><span class="l" style="transform:scaleX(0.974) rotate(.05deg)">QJs</span></div>
<div class="c" style="left:120px;top:60px;background:linear-gradient(135deg,#f4a300 12%,#e37e00 100%);color:#4e2400;"><span class="l" style="transform:scaleX(1.017) rotate(.05deg)">QTs</span><span class="p" style="transform:scaleX(1.124) rotate(.05deg)">34%</span></div>
<div class="c" style="left:150px;top:60px;background:linear-gradient(135deg,#f49e00 12%,#e37900 100%);color:#4f2300;"><span class="l" style="transform:scaleX(1.022) rotate(.05deg)">Q9s</span><span class="p" style="transform:scaleX(1.124) rotate(.05deg)">33%</span></div>
<div class="c" style="left:180px;top:60px;"><span class="l" style="transform:scaleX(1.022) rotate(.05deg)">Q8s</span></div>
<div class="c" style="left:210px;top:60px;"><span class="l" style="transform:scaleX(1.022) rotate(.05deg)">Q7s</span></div>
<div class="c" style="left:240px;top:60px;"><span class="l" style="transform:scaleX(1.022) rotate(.05deg)">Q6s</span></div>
<div class="c" style="left:270px;top:60px;"><span class="l" style="transform:scaleX(1.022) rotate(.05deg)">Q5s</span></div>
<div class="c" style="left:300px;top:60px;"><span class="l" style="transform:scaleX(1.022) rotate(.05deg)">Q4s</span></div>
<div class="c" style="left:330px;top:60px;"><span class="l" style="transform:scaleX(1.022) rotate(.05deg)">Q3s</span></div>
<div class="c" style="left:360px;top:60px;"><span class="l" style="transform:scaleX(1.022) rotate(.05deg)">Q2s</span></div>
<div class="c" style="left:0px;top:90px;background:linear-gradient(135deg,#eaec03 12%,#dfd203 100%);color:#413900;"><span class="l" style="transform:scaleX(0.998) rotate(.05deg)">AJo</span><span class="p" style="transform:scaleX(1.124) rotate(.05deg)">51%</span></div>
<div class="c" style="left:30px;top:90px;"><span class="l" style="transform:scaleX(0.991) rotate(.05deg)">KJo</span></div>
<div class="c" style="left:60px;top:90px;"><span class="l" style="transform:scaleX(1.003) rotate(.05deg)">QJo</span></div>
<div class="c" style="left:90px;top:90px;"><span class="l" style="transform:scaleX(0.919) rotate(.05deg)">JJ</span></div>
<div class="c" style="left:120px;top:90px;"><span class="l" style="transform:scaleX(0.993) rotate(.05deg)">JTs</span></div>
<div class="c" style="left:150px;top:90px;background:linear-gradient(135deg,#f08800 12%,#df6600 100%);color:#501e00;"><span class="l" style="transform:scaleX(0.998) rotate(.05deg)">J9s</span><span class="p" style="transform:scaleX(1.124) rotate(.05deg)">29%</span></div>
<div class="c" style="left:180px;top:90px;"><span class="l" style="transform:scaleX(0.998) rotate(.05deg)">J8s</span></div>
<div class="c" style="left:210px;top:90px;"><span class="l" style="transform:scaleX(0.998) rotate(.05deg)">J7s</span></div>
<div class="c" style="left:240px;top:90px;"><span class="l" style="transform:scaleX(0.998) rotate(.05deg)">J6s</span></div>
<div class="c" style="left:270px;top:90px;"><span class="l" style="transform:scaleX(0.998) rotate(.05deg)">J5s</span></div>
<div class="c" style="left:300px;top:90px;"><span class="l" style="transform:scaleX(0.998) rotate(.05deg)">J4s</span></div>
<div class="c" style="left:330px;top:90px;"><span class="l" style="transform:scaleX(0.998) rotate(.05deg)">J3s</span></div>
<div class="c" style="left:360px;top:90px;"><span class="l" style="transform:scaleX(0.998) rotate(.05deg)">J2s</span></div>
<div class="c" style="left:0px;top:120px;"><span class="l" style="transform:scaleX(1.041) rotate(.05deg)">ATo</span></div>
<div class="c" style="left:30px;top:120px;"><span class="l" style="transform:scaleX(1.034) rotate(.05deg)">KTo</span></div>
<div class="c" style="left:60px;top:120px;"><span class="l" style="transform:scaleX(1.043) rotate(.05deg)">QTo</span></div>
<div class="c" style="left:90px;top:120px;"><span class="l" style="transform:scaleX(1.024) rotate(.05deg)">JTo</span></div>
<div class="c" style="left:120px;top:120px;"><span class="l" style="transform:scaleX(1.061) rotate(.05deg)">TT</span></div>
<div class="c" style="left:150px;top:120px;background:linear-gradient(135deg,#f08800 12%,#df6600 100%);color:#501e00;"><span class="l" style="transform:scaleX(1.045) rotate(.05deg)">T9s</span><span class="p" style="transform:scaleX(1.124) rotate(.05deg)">29%</span></div>
<div class="c" style="left:180px;top:120px;background:linear-gradient(135deg,#f08800 12%,#df6600 100%);color:#501e00;"><span class="l" style="transform:scaleX(1.045) rotate(.05deg)">T8s</span><span class="p" style="transform:scaleX(1.124) rotate(.05deg)">29%</span></div>
<div class="c" style="left:210px;top:120px;"><span class="l" style="transform:scaleX(1.045) rotate(.05deg)">T7s</span></div>
<div class="c" style="left:240px;top:120px;"><span class="l" style="transform:scaleX(1.045) rotate(.05deg)">T6s</span></div>
<div class="c" style="left:270px;top:120px;"><span class="l" style="transform:scaleX(1.045) rotate(.05deg)">T5s</span></div>
<div class="c" style="left:300px;top:120px;"><span class="l" style="transform:scaleX(1.045) rotate(.05deg)">T4s</span></div>
<div class="c" style="left:330px;top:120px;"><span class="l" style="transform:scaleX(1.045) rotate(.05deg)">T3s</span></div>
<div class="c" style="left:360px;top:120px;"><span class="l" style="transform:scaleX(1.045) rotate(.05deg)">T2s</span></div>
<div class="c" style="left:0px;top:150px;"><span class="l" style="transform:scaleX(1.047) rotate(.05deg)">A9o</span></div>
<div class="c" style="left:30px;top:150px;"><span class="l" style="transform:scaleX(1.040) rotate(.05deg)">K9o</span></div>
<div class="c" style="left:60px;top:150px;"><span class="l" style="transform:scaleX(1.049) rotate(.05deg)">Q9o</span></div>
<div class="c" style="left:90px;top:150px;"><span class="l" style="transform:scaleX(1.030) rotate(.05deg)">J9o</span></div>
<div class="c" style="left:120px;top:150px;"><span class="l" style="transform:scaleX(1.073) rotate(.05deg)">T9o</span></div>
<div class="c" style="left:150px;top:150px;background:linear-gradient(135deg,#9eeb05 12%,#9cdb05 100%);color:#243800;"><span class="l" style="transform:scaleX(1.083) rotate(.05deg)">99</span><span class="p" style="transform:scaleX(1.124) rotate(.05deg)">65%</span></div>
<div class="c" style="left:180px;top:150px;background:linear-gradient(135deg,#f08800 12%,#df6600 100%);color:#501e00;"><span class="l" style="transform:scaleX(1.052) rotate(.05deg)">98s</span><span class="p" style="transform:scaleX(1.124) rotate(.05deg)">29%</span></div>
<div class="c" style="left:210px;top:150px;background:linear-gradient(135deg,#f08800 12%,#df6600 100%);color:#501e00;"><span class="l" style="transform:scaleX(1.052) rotate(.05deg)">97s</span><span class="p" style="transform:scaleX(1.124) rotate(.05deg)">29%</span></div>
<div class="c" style="left:240px;top:150px;"><span class="l" style="transform:scaleX(1.052) rotate(.05deg)">96s</span></div>
<div class="c" style="left:270px;top:150px;"><span class="l" style="transform:scaleX(1.052) rotate(.05deg)">95s</span></div>
<div class="c" style="left:300px;top:150px;"><span class="l" style="transform:scaleX(1.052) rotate(.05deg)">94s</span></div>
<div class="c" style="left:330px;top:150px;"><span class="l" style="transform:scaleX(1.052) rotate(.05deg)">93s</span></div>
<div class="c" style="left:360px;top:150px;"><span class="l" style="transform:scaleX(1.052) rotate(.05deg)">92s</span></div>
<div class="c" style="left:0px;top:180px;"><span class="l" style="transform:scaleX(1.047) rotate(.05deg)">A8o</span></div>
<div class="c" style="left:30px;top:180px;"><span class="l" style="transform:scaleX(1.040) rotate(.05deg)">K8o</span></div>
<div class="c" style="left:60px;top:180px;"><span class="l" style="transform:scaleX(1.049) rotate(.05deg)">Q8o</span></div>
<div class="c" style="left:90px;top:180px;"><span class="l" style="transform:scaleX(1.030) rotate(.05deg)">J8o</span></div>
<div class="c" style="left:120px;top:180px;"><span class="l" style="transform:scaleX(1.073) rotate(.05deg)">T8o</span></div>
<div class="c" style="left:150px;top:180px;"><span class="l" style="transform:scaleX(1.081) rotate(.05deg)">98o</span></div>
<div class="c" style="left:180px;top:180px;background:linear-gradient(135deg,#a3eb05 12%,#a0db05 100%);color:#263800;"><span class="l" style="transform:scaleX(1.083) rotate(.05deg)">88</span><span class="p" style="transform:scaleX(1.124) rotate(.05deg)">64%</span></div>
<div class="c" style="left:210px;top:180px;background:linear-gradient(135deg,#f4b900 12%,#e59100 100%);color:#4c2a00;"><span class="l" style="transform:scaleX(1.052) rotate(.05deg)">87s</span><span class="p" style="transform:scaleX(1.124) rotate(.05deg)">38%</span></div>
<div class="c" style="left:240px;top:180px;"><span class="l" style="transform:scaleX(1.052) rotate(.05deg)">86s</span></div>
<div class="c" style="left:270px;top:180px;"><span class="l" style="transform:scaleX(1.052) rotate(.05deg)">85s</span></div>
<div class="c" style="left:300px;top:180px;"><span class="l" style="transform:scaleX(1.052) rotate(.05deg)">84s</span></div>
<div class="c" style="left:330px;top:180px;"><span class="l" style="transform:scaleX(1.052) rotate(.05deg)">83s</span></div>
<div class="c" style="left:360px;top:180px;"><span class="l" style="transform:scaleX(1.052) rotate(.05deg)">82s</span></div>
<div class="c" style="left:0px;top:210px;"><span class="l" style="transform:scaleX(1.047) rotate(.05deg)">A7o</span></div>
<div class="c" style="left:30px;top:210px;"><span class="l" style="transform:scaleX(1.040) rotate(.05deg)">K7o</span></div>
<div class="c" style="left:60px;top:210px;"><span class="l" style="transform:scaleX(1.049) rotate(.05deg)">Q7o</span></div>
<div class="c" style="left:90px;top:210px;"><span class="l" style="transform:scaleX(1.030) rotate(.05deg)">J7o</span></div>
<div class="c" style="left:120px;top:210px;"><span class="l" style="transform:scaleX(1.073) rotate(.05deg)">T7o</span></div>
<div class="c" style="left:150px;top:210px;"><span class="l" style="transform:scaleX(1.081) rotate(.05deg)">97o</span></div>
<div class="c" style="left:180px;top:210px;"><span class="l" style="transform:scaleX(1.081) rotate(.05deg)">87o</span></div>
<div class="c" style="left:210px;top:210px;background:linear-gradient(135deg,#adeb05 12%,#a8db05 100%);color:#2a3800;"><span class="l" style="transform:scaleX(1.083) rotate(.05deg)">77</span><span class="p" style="transform:scaleX(1.124) rotate(.05deg)">62%</span></div>
<div class="c" style="left:240px;top:210px;background:linear-gradient(135deg,#a8eb05 12%,#a4db05 100%);color:#283800;"><span class="l" style="transform:scaleX(1.052) rotate(.05deg)">76s</span><span class="p" style="transform:scaleX(1.124) rotate(.05deg)">63%</span></div>
<div class="c" style="left:270px;top:210px;"><span class="l" style="transform:scaleX(1.052) rotate(.05deg)">75s</span></div>
<div class="c" style="left:300px;top:210px;"><span class="l" style="transform:scaleX(1.052) rotate(.05deg)">74s</span></div>
<div class="c" style="left:330px;top:210px;"><span class="l" style="transform:scaleX(1.052) rotate(.05deg)">73s</span></div>
<div class="c" style="left:360px;top:210px;"><span class="l" style="transform:scaleX(1.052) rotate(.05deg)">72s</span></div>
<div class="c" style="left:0px;top:240px;"><span class="l" style="transform:scaleX(1.047) rotate(.05deg)">A6o</span></div>
<div class="c" style="left:30px;top:240px;"><span class="l" style="transform:scaleX(1.040) rotate(.05deg)">K6o</span></div>
<div class="c" style="left:60px;top:240px;"><span class="l" style="transform:scaleX(1.049) rotate(.05deg)">Q6o</span></div>
<div class="c" style="left:90px;top:240px;"><span class="l" style="transform:scaleX(1.030) rotate(.05deg)">J6o</span></div>
<div class="c" style="left:120px;top:240px;"><span class="l" style="transform:scaleX(1.073) rotate(.05deg)">T6o</span></div>
<div class="c" style="left:150px;top:240px;"><span class="l" style="transform:scaleX(1.081) rotate(.05deg)">96o</span></div>
<div class="c" style="left:180px;top:240px;"><span class="l" style="transform:scaleX(1.081) rotate(.05deg)">86o</span></div>
<div class="c" style="left:210px;top:240px;"><span class="l" style="transform:scaleX(1.081) rotate(.05deg)">76o</span></div>
<div class="c" style="left:240px;top:240px;background:linear-gradient(135deg,#1deb05 12%,#27db05 100%);color:#003800;"><span class="l" style="transform:scaleX(1.083) rotate(.05deg)">66</span><span class="p" style="transform:scaleX(1.124) rotate(.05deg)">92%</span></div>
<div class="c" style="left:270px;top:240px;"><span class="l" style="transform:scaleX(1.052) rotate(.05deg)">65s</span></div>
<div class="c" style="left:300px;top:240px;"><span class="l" style="transform:scaleX(1.052) rotate(.05deg)">64s</span></div>
<div class="c" style="left:330px;top:240px;"><span class="l" style="transform:scaleX(1.052) rotate(.05deg)">63s</span></div>
<div class="c" style="left:360px;top:240px;"><span class="l" style="transform:scaleX(1.052) rotate(.05deg)">62s</span></div>
<div class="c" style="left:0px;top:270px;"><span class="l" style="transform:scaleX(1.047) rotate(.05deg)">A5o</span></div>
<div class="c" style="left:30px;top:270px;"><span class="l" style="transform:scaleX(1.040) rotate(.05deg)">K5o</span></div>
<div class="c" style="left:60px;top:270px;"><span class="l" style="transform:scaleX(1.049) rotate(.05deg)">Q5o</span></div>
<div class="c" style="left:90px;top:270px;"><span class="l" style="transform:scaleX(1.030) rotate(.05deg)">J5o</span></div>
<div class="c" style="left:120px;top:270px;"><span class="l" style="transform:scaleX(1.073) rotate(.05deg)">T5o</span></div>
<div class="c" style="left:150px;top:270px;"><span class="l" style="transform:scaleX(1.081) rotate(.05deg)">95o</span></div>
<div class="c" style="left:180px;top:270px;"><span class="l" style="transform:scaleX(1.081) rotate(.05deg)">85o</span></div>
<div class="c" style="left:210px;top:270px;"><span class="l" style="transform:scaleX(1.081) rotate(.05deg)">75o</span></div>
<div class="c" style="left:240px;top:270px;"><span class="l" style="transform:scaleX(1.081) rotate(.05deg)">65o</span></div>
<div class="c" style="left:270px;top:270px;background:linear-gradient(135deg,#a8eb05 12%,#a4db05 100%);color:#283800;"><span class="l" style="transform:scaleX(1.083) rotate(.05deg)">55</span><span class="p" style="transform:scaleX(1.124) rotate(.05deg)">63%</span></div>
<div class="c" style="left:300px;top:270px;"><span class="l" style="transform:scaleX(1.052) rotate(.05deg)">54s</span></div>
<div class="c" style="left:330px;top:270px;"><span class="l" style="transform:scaleX(1.052) rotate(.05deg)">53s</span></div>
<div class="c" style="left:360px;top:270px;"><span class="l" style="transform:scaleX(1.052) rotate(.05deg)">52s</span></div>
<div class="c" style="left:0px;top:300px;"><span class="l" style="transform:scaleX(1.047) rotate(.05deg)">A4o</span></div>
<div class="c" style="left:30px;top:300px;"><span class="l" style="transform:scaleX(1.040) rotate(.05deg)">K4o</span></div>
<div class="c" style="left:60px;top:300px;"><span class="l" style="transform:scaleX(1.049) rotate(.05deg)">Q4o</span></div>
<div class="c" style="left:90px;top:300px;"><span class="l" style="transform:scaleX(1.030) rotate(.05deg)">J4o</span></div>
<div class="c" style="left:120px;top:300px;"><span class="l" style="transform:scaleX(1.073) rotate(.05deg)">T4o</span></div>
<div class="c" style="left:150px;top:300px;"><span class="l" style="transform:scaleX(1.081) rotate(.05deg)">94o</span></div>
<div class="c" style="left:180px;top:300px;"><span class="l" style="transform:scaleX(1.081) rotate(.05deg)">84o</span></div>
<div class="c" style="left:210px;top:300px;"><span class="l" style="transform:scaleX(1.081) rotate(.05deg)">74o</span></div>
<div class="c" style="left:240px;top:300px;"><span class="l" style="transform:scaleX(1.081) rotate(.05deg)">64o</span></div>
<div class="c" style="left:270px;top:300px;"><span class="l" style="transform:scaleX(1.081) rotate(.05deg)">54o</span></div>
<div class="c" style="left:300px;top:300px;background:linear-gradient(135deg,#22eb05 12%,#2bdb05 100%);color:#003800;"><span class="l" style="transform:scaleX(1.083) rotate(.05deg)">44</span><span class="p" style="transform:scaleX(1.124) rotate(.05deg)">91%</span></div>
<div class="c" style="left:330px;top:300px;"><span class="l" style="transform:scaleX(1.052) rotate(.05deg)">43s</span></div>
<div class="c" style="left:360px;top:300px;"><span class="l" style="transform:scaleX(1.052) rotate(.05deg)">42s</span></div>
<div class="c" style="left:0px;top:330px;"><span class="l" style="transform:scaleX(1.047) rotate(.05deg)">A3o</span></div>
<div class="c" style="left:30px;top:330px;"><span class="l" style="transform:scaleX(1.040) rotate(.05deg)">K3o</span></div>
<div class="c" style="left:60px;top:330px;"><span class="l" style="transform:scaleX(1.049) rotate(.05deg)">Q3o</span></div>
<div class="c" style="left:90px;top:330px;"><span class="l" style="transform:scaleX(1.030) rotate(.05deg)">J3o</span></div>
<div class="c" style="left:120px;top:330px;"><span class="l" style="transform:scaleX(1.073) rotate(.05deg)">T3o</span></div>
<div class="c" style="left:150px;top:330px;"><span class="l" style="transform:scaleX(1.081) rotate(.05deg)">93o</span></div>
<div class="c" style="left:180px;top:330px;"><span class="l" style="transform:scaleX(1.081) rotate(.05deg)">83o</span></div>
<div class="c" style="left:210px;top:330px;"><span class="l" style="transform:scaleX(1.081) rotate(.05deg)">73o</span></div>
<div class="c" style="left:240px;top:330px;"><span class="l" style="transform:scaleX(1.081) rotate(.05deg)">63o</span></div>
<div class="c" style="left:270px;top:330px;"><span class="l" style="transform:scaleX(1.081) rotate(.05deg)">53o</span></div>
<div class="c" style="left:300px;top:330px;"><span class="l" style="transform:scaleX(1.081) rotate(.05deg)">43o</span></div>
<div class="c" style="left:330px;top:330px;background:linear-gradient(135deg,#c0eb05 12%,#bbd805 100%);color:#323800;"><span class="l" style="transform:scaleX(1.083) rotate(.05deg)">33</span><span class="p" style="transform:scaleX(1.124) rotate(.05deg)">58%</span></div>
<div class="c" style="left:360px;top:330px;"><span class="l" style="transform:scaleX(1.052) rotate(.05deg)">32s</span></div>
<div class="c" style="left:0px;top:360px;"><span class="l" style="transform:scaleX(1.047) rotate(.05deg)">A2o</span></div>
<div class="c" style="left:30px;top:360px;"><span class="l" style="transform:scaleX(1.040) rotate(.05deg)">K2o</span></div>
<div class="c" style="left:60px;top:360px;"><span class="l" style="transform:scaleX(1.049) rotate(.05deg)">Q2o</span></div>
<div class="c" style="left:90px;top:360px;"><span class="l" style="transform:scaleX(1.030) rotate(.05deg)">J2o</span></div>
<div class="c" style="left:120px;top:360px;"><span class="l" style="transform:scaleX(1.073) rotate(.05deg)">T2o</span></div>
<div class="c" style="left:150px;top:360px;"><span class="l" style="transform:scaleX(1.081) rotate(.05deg)">92o</span></div>
<div class="c" style="left:180px;top:360px;"><span class="l" style="transform:scaleX(1.081) rotate(.05deg)">82o</span></div>
<div class="c" style="left:210px;top:360px;"><span class="l" style="transform:scaleX(1.081) rotate(.05deg)">72o</span></div>
<div class="c" style="left:240px;top:360px;"><span class="l" style="transform:scaleX(1.081) rotate(.05deg)">62o</span></div>
<div class="c" style="left:270px;top:360px;"><span class="l" style="transform:scaleX(1.081) rotate(.05deg)">52o</span></div>
<div class="c" style="left:300px;top:360px;"><span class="l" style="transform:scaleX(1.081) rotate(.05deg)">42o</span></div>
<div class="c" style="left:330px;top:360px;"><span class="l" style="transform:scaleX(1.081) rotate(.05deg)">32o</span></div>
<div class="c" style="left:360px;top:360px;background:linear-gradient(135deg,#26eb05 12%,#30db05 100%);color:#003800;"><span class="l" style="transform:scaleX(1.083) rotate(.05deg)">22</span><span class="p" style="transform:scaleX(1.124) rotate(.05deg)">90%</span></div>
<div class="v" style="left:0px"></div><div class="h" style="top:0px"></div>
<div class="v" style="left:30px"></div><div class="h" style="top:30px"></div>
<div class="v" style="left:60px"></div><div class="h" style="top:60px"></div>
<div class="v" style="left:90px"></div><div class="h" style="top:90px"></div>
<div class="v" style="left:120px"></div><div class="h" style="top:120px"></div>
<div class="v" style="left:150px"></div><div class="h" style="top:150px"></div>
<div class="v" style="left:180px"></div><div class="h" style="top:180px"></div>
<div class="v" style="left:210px"></div><div class="h" style="top:210px"></div>
<div class="v" style="left:240px"></div><div class="h" style="top:240px"></div>
<div class="v" style="left:270px"></div><div class="h" style="top:270px"></div>
<div class="v" style="left:300px"></div><div class="h" style="top:300px"></div>
<div class="v" style="left:330px"></div><div class="h" style="top:330px"></div>
<div class="v" style="left:360px"></div><div class="h" style="top:360px"></div>
<div class="v" style="left:390px"></div><div class="h" style="top:390px"></div>
</div>
</body></html>
